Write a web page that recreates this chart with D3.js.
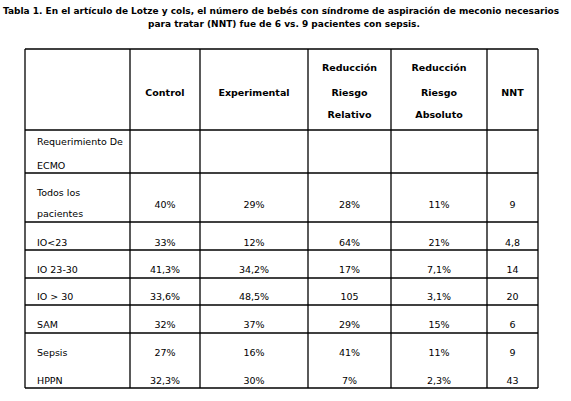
<!DOCTYPE html>
<html lang="es">
<head>
<meta charset="UTF-8">
<title>Tabla 1</title>
<script src="https://cdnjs.cloudflare.com/ajax/libs/d3/7.8.5/d3.min.js"></script>
<style>
  body { margin: 0; background: #fff; }
  text { font-family: "DejaVu Sans", Verdana, sans-serif; font-size: 9.5px; fill: #000; }
</style>
</head>
<body>
<div id="chart"></div>
<script>
    var titleLines = ["Tabla 1. En el artículo de Lotze y cols, el número de bebés con síndrome de aspiración de meconio necesarios",
                      "para tratar (NNT) fue de 6 vs. 9 pacientes con sepsis."];
    var headers = [[], ["Control"], ["Experimental"], ["Reducción", "Riesgo", "Relativo"], ["Reducción", "Riesgo", "Absoluto"], ["NNT"]];
    var rowLabels = [["Requerimiento De", "ECMO"], ["Todos los", "pacientes"], ["IO<23"], ["IO 23-30"], ["IO > 30"], ["SAM"], ["Sepsis"], ["HPPN"]];
    var control = ["", "40%", "33%", "41,3%", "33,6%", "32%", "27%", "32,3%"];
    var experimental = ["", "29%", "12%", "34,2%", "48,5%", "37%", "16%", "30%"];
    var rrr = ["", "28%", "64%", "17%", "105", "29%", "41%", "7%"];
    var rra = ["", "11%", "21%", "7,1%", "3,1%", "15%", "11%", "2,3%"];
    var nnt = ["", "9", "4,8", "14", "20", "6", "9", "43"];

    // layout
    var colEdges = [25, 130, 200, 308, 391, 487, 538];
    var rowEdges = [49, 130, 173, 222, 250, 278, 305, 333, 361, 388];
    var noLineAt = 8; // no rule between Sepsis and HPPN

    var svg = d3.select("#chart").append("svg").attr("width", 571).attr("height", 401);

    svg.append("text").attr("x", 3).attr("y", 14)
        .attr("textLength", 556).attr("lengthAdjust", "spacingAndGlyphs")
        .style("font-weight", "bold").style("font-size", "9px").text(titleLines[0]);
    svg.append("text").attr("x", 284).attr("y", 27).attr("text-anchor", "middle")
        .style("font-weight", "bold").style("font-size", "9px").text(titleLines[1]);

    var g = svg.append("g").attr("stroke", "#000").attr("stroke-width", 1.3);
    rowEdges.forEach(function(y, i) {
        if (i === noLineAt) return;
        g.append("line").attr("x1", colEdges[0]).attr("x2", colEdges[6]).attr("y1", y).attr("y2", y);
    });
    colEdges.forEach(function(x) {
        g.append("line").attr("x1", x).attr("x2", x).attr("y1", rowEdges[0]).attr("y2", rowEdges[9]);
    });

    function cx(i) { return (colEdges[i] + colEdges[i + 1]) / 2; }

    // header
    headers.forEach(function(lines, c) {
        var ys = lines.length === 1 ? [93] : [68, 93, 115];
        lines.forEach(function(t, k) {
            svg.append("text").attr("x", cx(c)).attr("y", ys[k] + 3).attr("text-anchor", "middle")
                .style("font-weight", "bold").text(t);
        });
    });

    var rowY = [null, 205, 243, 270, 297, 325, 353, 381];
    rowLabels.forEach(function(lines, r) {
        var ys = r === 0 ? [142, 166] : r === 1 ? [193, 214] : [rowY[r]];
        lines.forEach(function(t, k) {
            svg.append("text").attr("x", 37).attr("y", ys[k] + 3).text(t);
        });
    });

    [control, experimental, rrr, rra, nnt].forEach(function(vals, c) {
        vals.forEach(function(v, r) {
            if (!v) return;
            svg.append("text").attr("x", cx(c + 1)).attr("y", rowY[r] + 3)
                .attr("text-anchor", "middle").text(v);
        });
    });
</script>
</body>
</html>
